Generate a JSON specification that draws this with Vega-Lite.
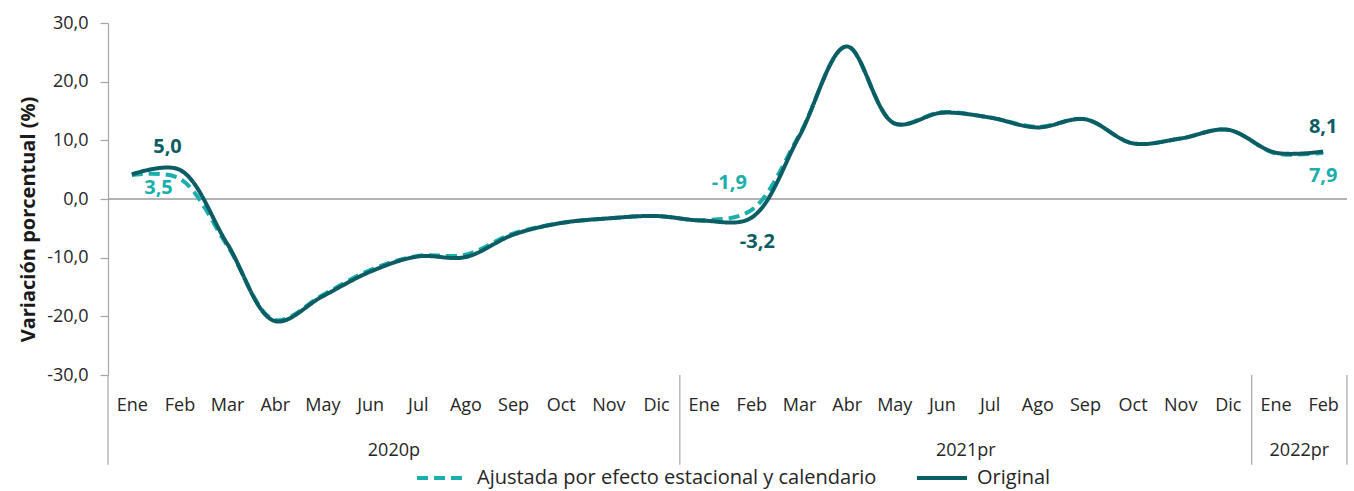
{
  "$schema": "https://vega.github.io/schema/vega-lite/v6.json",
  "width": 1239,
  "height": 352,
  "autosize": {"type": "none"},
  "padding": {"left": 108, "top": 23, "right": 7, "bottom": 116},
  "background": "white",
  "config": {
    "view": {"stroke": null},
    "font": "Open Sans",
    "locale": {"number": {"decimal": ",", "thousands": ".", "grouping": [3], "currency": ["", " €"], "minus": "-"}}
  },
  "datasets": {
    "series": [
      {"idx": 0, "serie": "Ajustada por efecto estacional y calendario", "valor": 4.1},
      {"idx": 1, "serie": "Ajustada por efecto estacional y calendario", "valor": 3.5},
      {"idx": 2, "serie": "Ajustada por efecto estacional y calendario", "valor": -7.9},
      {"idx": 3, "serie": "Ajustada por efecto estacional y calendario", "valor": -20.6},
      {"idx": 4, "serie": "Ajustada por efecto estacional y calendario", "valor": -16.4},
      {"idx": 5, "serie": "Ajustada por efecto estacional y calendario", "valor": -12.1},
      {"idx": 6, "serie": "Ajustada por efecto estacional y calendario", "valor": -9.7},
      {"idx": 7, "serie": "Ajustada por efecto estacional y calendario", "valor": -9.5},
      {"idx": 8, "serie": "Ajustada por efecto estacional y calendario", "valor": -5.9},
      {"idx": 9, "serie": "Ajustada por efecto estacional y calendario", "valor": -4.1},
      {"idx": 10, "serie": "Ajustada por efecto estacional y calendario", "valor": -3.3},
      {"idx": 11, "serie": "Ajustada por efecto estacional y calendario", "valor": -2.9},
      {"idx": 12, "serie": "Ajustada por efecto estacional y calendario", "valor": -3.6},
      {"idx": 13, "serie": "Ajustada por efecto estacional y calendario", "valor": -1.9},
      {"idx": 14, "serie": "Ajustada por efecto estacional y calendario", "valor": 10.8},
      {"idx": 15, "serie": "Ajustada por efecto estacional y calendario", "valor": 26.0},
      {"idx": 16, "serie": "Ajustada por efecto estacional y calendario", "valor": 12.9},
      {"idx": 17, "serie": "Ajustada por efecto estacional y calendario", "valor": 14.8},
      {"idx": 18, "serie": "Ajustada por efecto estacional y calendario", "valor": 13.9},
      {"idx": 19, "serie": "Ajustada por efecto estacional y calendario", "valor": 12.3},
      {"idx": 20, "serie": "Ajustada por efecto estacional y calendario", "valor": 13.6},
      {"idx": 21, "serie": "Ajustada por efecto estacional y calendario", "valor": 9.5},
      {"idx": 22, "serie": "Ajustada por efecto estacional y calendario", "valor": 10.3},
      {"idx": 23, "serie": "Ajustada por efecto estacional y calendario", "valor": 11.8},
      {"idx": 24, "serie": "Ajustada por efecto estacional y calendario", "valor": 7.8},
      {"idx": 25, "serie": "Ajustada por efecto estacional y calendario", "valor": 7.9},
      {"idx": 0, "serie": "Original", "valor": 4.2},
      {"idx": 1, "serie": "Original", "valor": 5.0},
      {"idx": 2, "serie": "Original", "valor": -7.6},
      {"idx": 3, "serie": "Original", "valor": -20.8},
      {"idx": 4, "serie": "Original", "valor": -16.6},
      {"idx": 5, "serie": "Original", "valor": -12.4},
      {"idx": 6, "serie": "Original", "valor": -9.8},
      {"idx": 7, "serie": "Original", "valor": -9.9},
      {"idx": 8, "serie": "Original", "valor": -6.1},
      {"idx": 9, "serie": "Original", "valor": -4.1},
      {"idx": 10, "serie": "Original", "valor": -3.3},
      {"idx": 11, "serie": "Original", "valor": -2.9},
      {"idx": 12, "serie": "Original", "valor": -3.7},
      {"idx": 13, "serie": "Original", "valor": -3.2},
      {"idx": 14, "serie": "Original", "valor": 10.6},
      {"idx": 15, "serie": "Original", "valor": 26.0},
      {"idx": 16, "serie": "Original", "valor": 12.9},
      {"idx": 17, "serie": "Original", "valor": 14.7},
      {"idx": 18, "serie": "Original", "valor": 13.9},
      {"idx": 19, "serie": "Original", "valor": 12.2},
      {"idx": 20, "serie": "Original", "valor": 13.6},
      {"idx": 21, "serie": "Original", "valor": 9.5},
      {"idx": 22, "serie": "Original", "valor": 10.3},
      {"idx": 23, "serie": "Original", "valor": 11.8},
      {"idx": 24, "serie": "Original", "valor": 7.9},
      {"idx": 25, "serie": "Original", "valor": 8.1}
    ],
    "separadores": [{"pos": -0.5}, {"pos": 11.5}, {"pos": 23.5}, {"pos": 25.5}],
    "anios": [
      {"anio": "2020p", "centro": 5.5},
      {"anio": "2021pr", "centro": 17.5},
      {"anio": "2022pr", "centro": 24.5}
    ]
  },
  "layer": [
    {
      "data": {"values": [{}]},
      "mark": {"type": "rule", "color": "#9a9a9a", "strokeWidth": 1.5},
      "encoding": {
        "y": {"datum": 0, "type": "quantitative", "scale": {"domain": [-30, 30], "nice": false}}
      }
    },
    {
      "data": {"name": "separadores"},
      "mark": {"type": "rule", "color": "#a6a6a6", "strokeWidth": 1.2},
      "encoding": {
        "x": {"field": "pos", "type": "quantitative"},
        "y": {"datum": -30, "type": "quantitative"},
        "y2": {"datum": -45.3}
      }
    },
    {
      "data": {"name": "anios"},
      "mark": {"type": "text", "fontSize": 18, "color": "#262626", "baseline": "middle"},
      "encoding": {
        "x": {"field": "centro", "type": "quantitative"},
        "y": {"datum": -43, "type": "quantitative"},
        "text": {"field": "anio"}
      }
    },
    {
      "data": {"name": "series"},
      "mark": {"type": "line", "interpolate": "catmull-rom", "strokeWidth": 4},
      "encoding": {
        "x": {
          "field": "idx", "type": "quantitative",
          "scale": {"domain": [-0.5, 25.5], "nice": false, "zero": false},
          "axis": {
            "values": [0,1,2,3,4,5,6,7,8,9,10,11,12,13,14,15,16,17,18,19,20,21,22,23,24,25],
            "labelExpr": "['Ene','Feb','Mar','Abr','May','Jun','Jul','Ago','Sep','Oct','Nov','Dic','Ene','Feb','Mar','Abr','May','Jun','Jul','Ago','Sep','Oct','Nov','Dic','Ene','Feb'][datum.value]",
            "title": null, "grid": false, "domain": false, "ticks": false,
            "labelFontSize": 18, "labelColor": "#262626", "labelPadding": 21, "labelFlush": false, "labelOverlap": false
          }
        },
        "y": {
          "field": "valor", "type": "quantitative",
          "scale": {"domain": [-30, 30], "nice": false},
          "axis": {
            "values": [-30, -20, -10, 0, 10, 20, 30],
            "format": ".1f",
            "title": "Variación porcentual  (%)",
            "titleFontSize": 20, "titleFontWeight": "bold", "titleColor": "#1a1a1a",
            "titlePadding": 8, "titleY": 196,
            "grid": false, "domainColor": "#a6a6a6", "domainWidth": 1.2,
            "tickColor": "#a6a6a6", "tickSize": 8, "tickWidth": 1.2,
            "labelFontSize": 18, "labelColor": "#262626", "labelPadding": 12
          }
        },
        "color": {
          "field": "serie", "type": "nominal",
          "scale": {"domain": ["Ajustada por efecto estacional y calendario", "Original"], "range": ["#1aaeac", "#0b5d63"]},
          "legend": {
            "title": null, "orient": "none", "direction": "horizontal",
            "legendX": 307, "legendY": 428, "padding": 0,
            "symbolType": "stroke", "symbolSize": 2500, "symbolStrokeWidth": 4,
            "labelFontSize": 20, "labelColor": "#262626", "labelOffset": 8, "columnPadding": 32,
            "labelLimit": 600
          }
        },
        "strokeDash": {
          "field": "serie", "type": "nominal",
          "scale": {"domain": ["Ajustada por efecto estacional y calendario", "Original"], "range": [[11, 6], [1, 0]]}
        }
      }
    },
    {
      "data": {"name": "series"},
      "transform": [{"filter": "datum.serie == 'Original' && datum.idx == 1"}],
      "mark": {"type": "text", "fontSize": 20, "fontWeight": "bold", "color": "#0b5d63", "dx": -12, "dy": -23, "baseline": "middle"},
      "encoding": {"x": {"field": "idx", "type": "quantitative"}, "y": {"field": "valor", "type": "quantitative"}, "text": {"field": "valor", "format": ".1f"}}
    },
    {
      "data": {"name": "series"},
      "transform": [{"filter": "datum.serie == 'Original' && datum.idx == 13"}],
      "mark": {"type": "text", "fontSize": 20, "fontWeight": "bold", "color": "#0b5d63", "dx": 6, "dy": 24, "baseline": "middle"},
      "encoding": {"x": {"field": "idx", "type": "quantitative"}, "y": {"field": "valor", "type": "quantitative"}, "text": {"field": "valor", "format": ".1f"}}
    },
    {
      "data": {"name": "series"},
      "transform": [{"filter": "datum.serie == 'Original' && datum.idx == 25"}],
      "mark": {"type": "text", "fontSize": 20, "fontWeight": "bold", "color": "#0b5d63", "dx": 0, "dy": -24, "baseline": "middle"},
      "encoding": {"x": {"field": "idx", "type": "quantitative"}, "y": {"field": "valor", "type": "quantitative"}, "text": {"field": "valor", "format": ".1f"}}
    },
    {
      "data": {"name": "series"},
      "transform": [{"filter": "datum.serie != 'Original' && datum.idx == 1"}],
      "mark": {"type": "text", "fontSize": 20, "fontWeight": "bold", "color": "#1aaeac", "dx": -21, "dy": 10, "baseline": "middle"},
      "encoding": {"x": {"field": "idx", "type": "quantitative"}, "y": {"field": "valor", "type": "quantitative"}, "text": {"field": "valor", "format": ".1f"}}
    },
    {
      "data": {"name": "series"},
      "transform": [{"filter": "datum.serie != 'Original' && datum.idx == 13"}],
      "mark": {"type": "text", "fontSize": 20, "fontWeight": "bold", "color": "#1aaeac", "dx": -22, "dy": -27, "baseline": "middle"},
      "encoding": {"x": {"field": "idx", "type": "quantitative"}, "y": {"field": "valor", "type": "quantitative"}, "text": {"field": "valor", "format": ".1f"}}
    },
    {
      "data": {"name": "series"},
      "transform": [{"filter": "datum.serie != 'Original' && datum.idx == 25"}],
      "mark": {"type": "text", "fontSize": 20, "fontWeight": "bold", "color": "#1aaeac", "dx": 0, "dy": 23, "baseline": "middle"},
      "encoding": {"x": {"field": "idx", "type": "quantitative"}, "y": {"field": "valor", "type": "quantitative"}, "text": {"field": "valor", "format": ".1f"}}
    }
  ]
}
